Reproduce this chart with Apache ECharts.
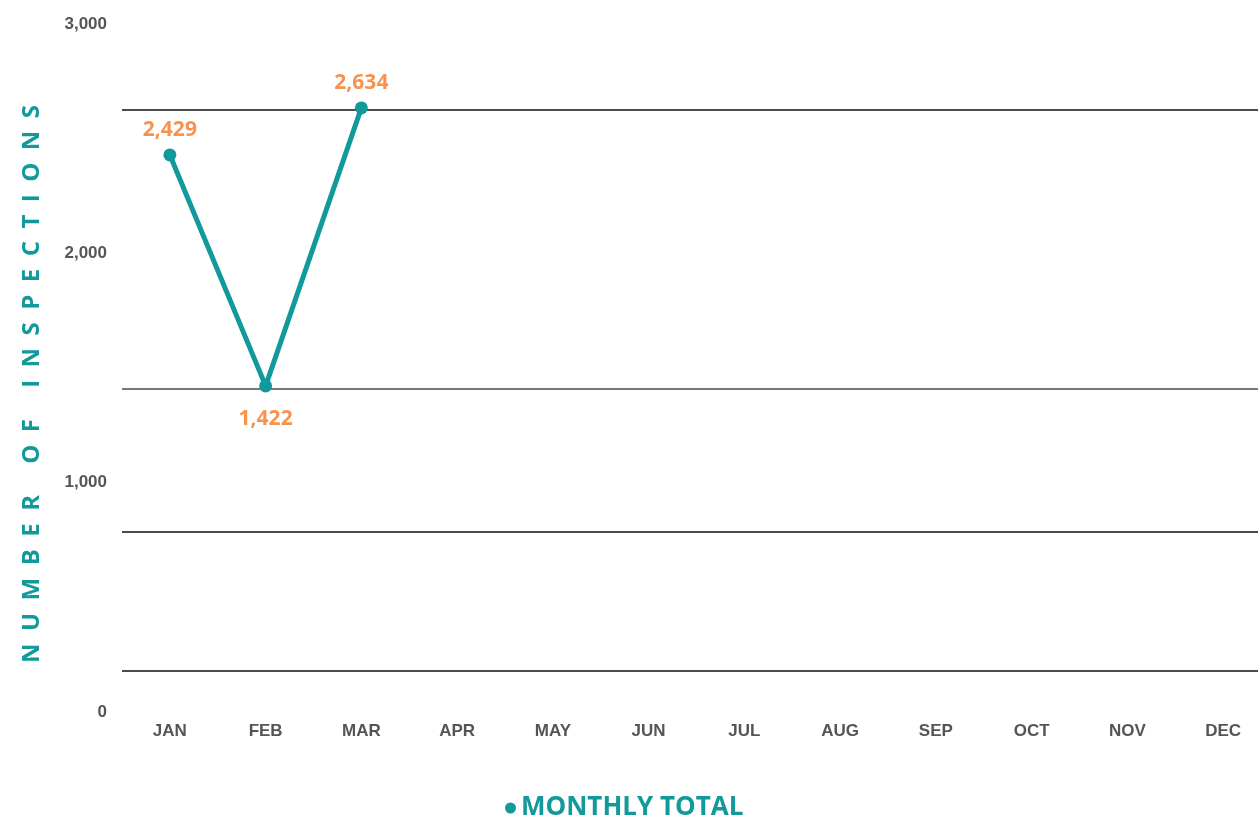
<!DOCTYPE html>
<html><head><meta charset="utf-8">
<script src="https://cdn.jsdelivr.net/npm/echarts@6/dist/echarts.min.js"></script>
<style>html,body{margin:0;padding:0;background:#fff}#c{width:1258px;height:820px}</style>
</head><body><div id="c"></div>
<script>
const months = ['JAN','FEB','MAR','APR','MAY','JUN','JUL','AUG','SEP','OCT','NOV','DEC'];
const monthlyTotal = [2429, 1422, 2634, null, null, null, null, null, null, null, null, null];
const labelPositions = ['top','bottom','top'];
const referenceLines = [2625, 1409, 785, 179];
const yTicks = [0, 1000, 2000, 3000];

const teal = '#12999C';
const orange = '#F8924F';
const chart = echarts.init(document.getElementById('c'));
chart.setOption({
  animation: false,
  grid: {left: 122, width: 1149, top: 24, bottom: 108, containLabel: false, outerBoundsMode: 'none'},
  legend: {
    data: ['MONTHLY TOTAL'], top: 790, left: 500, icon: 'circle',
    itemWidth: 11, itemHeight: 11, itemGap: 4,
    textStyle: {color: teal, fontSize: 26, fontWeight: 'bold', fontFamily: 'Open Sans'}
  },
  xAxis: {
    type: 'category', data: months, boundaryGap: true,
    axisLine: {show: false}, axisTick: {show: false},
    axisLabel: {color: '#555', fontSize: 17, fontWeight: 'bold', fontFamily: 'Liberation Sans', margin: 11}
  },
  yAxis: {
    type: 'value', min: yTicks[0], max: yTicks[yTicks.length-1], interval: 1000,
    splitLine: {show: false}, axisLine: {show: false}, axisTick: {show: false},
    axisLabel: {color: '#555', fontSize: 17, fontWeight: 'bold', fontFamily: 'Liberation Sans', margin: 15,
      formatter: v => v.toLocaleString('en-US')}
  },
  graphic: [{
    type: 'text', x: 32, y: 384, rotation: Math.PI/2,
    style: {text: 'N  U  M  B  E  R     O  F     I  N  S  P  E  C  T  I  O  N  S',
      fill: teal, fontSize: 24, fontWeight: 'bold', fontFamily: 'Open Sans',
      align: 'center', verticalAlign: 'middle'}
  }],
  series: [{
    name: 'MONTHLY TOTAL', type: 'line',
    data: monthlyTotal.map((v,i) => ({value: v, label: {position: labelPositions[i] || 'top', distance: labelPositions[i] === 'bottom' ? 16 : 8}})),
    connectNulls: false,
    lineStyle: {color: teal, width: 5},
    itemStyle: {color: teal},
    symbol: 'circle', symbolSize: 13, showSymbol: true,
    label: {show: true, color: orange, fontSize: 21, fontWeight: 'bold', fontFamily: 'Open Sans',
      formatter: p => p.value == null ? '' : Number(p.value).toLocaleString('en-US')},
    markLine: {
      silent: true, symbol: 'none', label: {show: false},
      data: referenceLines.map((v,i) => ({yAxis: v, lineStyle: {color: i===1 ? '#777' : '#111', width: i===1 ? 2 : 1.5, type: 'solid'}}))
    },
    z: 5
  }]
});
</script></body></html>
